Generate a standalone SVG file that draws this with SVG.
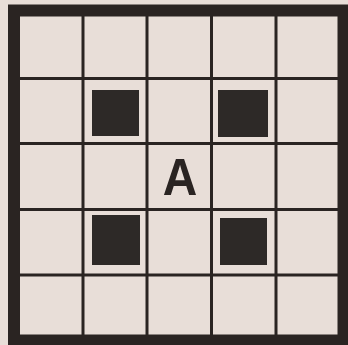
<svg xmlns="http://www.w3.org/2000/svg" width="348" height="345" viewBox="0 0 348 345">
<style>
.line{stroke:#2a2422;stroke-width:3;fill:none}
.blk{fill:#2d2927}
.lbl{font-family:"Liberation Sans",Arial,sans-serif;font-weight:bold;font-size:52px;fill:#2a2422;text-anchor:middle}
</style>
<rect width="348" height="345" fill="#e8ded8"/>
<g id="grid">
<line class="line" x1="83" y1="16" x2="83" y2="336"/>
<line class="line" x1="147" y1="16" x2="147" y2="336"/>
<line class="line" x1="211.5" y1="16" x2="211.5" y2="336"/>
<line class="line" x1="276" y1="16" x2="276" y2="336"/>
<line class="line" x1="20" y1="78.5" x2="338" y2="78.5"/>
<line class="line" x1="20" y1="143.5" x2="338" y2="143.5"/>
<line class="line" x1="20" y1="209.5" x2="338" y2="209.5"/>
<line class="line" x1="20" y1="275" x2="338" y2="275"/>
</g>
<g id="border">
<rect x="14" y="10.5" width="329.5" height="330" fill="none" stroke="#2a2422" stroke-width="12"/>
</g>
<g id="squares">
<rect class="blk" x="92" y="90" width="47" height="46"/>
<rect class="blk" x="218" y="90" width="50" height="47"/>
<rect class="blk" x="92" y="215" width="48" height="50"/>
<rect class="blk" x="220" y="218" width="47" height="47"/>
</g>
<g id="center">
<text class="lbl" x="180" y="195" transform="translate(180 0) scale(0.92 1) translate(-180 0)">A</text>
</g>
</svg>
